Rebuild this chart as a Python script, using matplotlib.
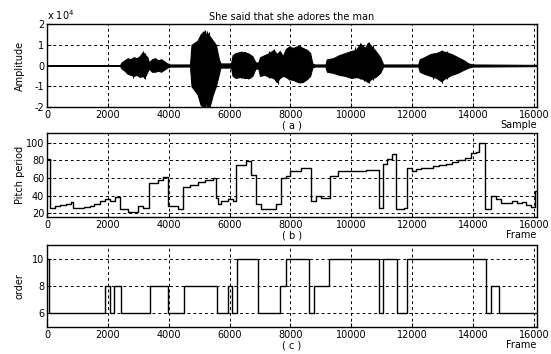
import matplotlib
matplotlib.use('Agg')
import matplotlib.pyplot as plt
import numpy as np

# speech waveform envelope: sample, upper / lower edge (x 1e4)
wave_x = [0, 2400, 2450, 2550, 2650, 2750, 2850, 2950, 3050, 3150, 3200, 3300, 3350,
          3450, 3550, 3650, 3750, 3850, 3950, 4050, 4700, 4750, 4850, 4950, 5050, 5150,
          5200, 5250, 5350, 5450, 5550, 5650, 5700, 6050, 6100, 6200, 6350, 6500, 6650,
          6750, 6850, 6950, 7000, 7150, 7300, 7450, 7550, 7650, 7750, 7850, 7950, 8100,
          8250, 8400, 8550, 8650, 8720, 8800, 9150, 9200, 9400, 9600, 9800, 10000, 10150,
          10300, 10450, 10550, 10650, 10800, 10950, 11050, 12200, 12250, 12400, 12600,
          12800, 12950, 13100, 13300, 13500, 13700, 13850, 14000, 16100]
wave_hi = [0.02, 0.02, 0.15, 0.25, 0.35, 0.3, 0.4, 0.35, 0.45, 0.65, 0.55, 0.4, 0.15,
           0.3, 0.35, 0.25, 0.3, 0.2, 0.1, 0.05, 0.05, 1.0, 1.1, 1.2, 1.5, 1.65,
           1.4, 1.6, 1.4, 1.2, 1.0, 0.3, 0.1, 0.1, 0.5, 0.6, 0.65, 0.65, 0.55,
           0.45, 0.15, 0.15, 0.4, 0.5, 0.6, 0.75, 0.55, 0.7, 0.45, 0.8, 0.9, 0.85,
           0.95, 0.85, 0.75, 0.6, 0.1, 0.05, 0.05, 0.3, 0.35, 0.5, 0.6, 0.7, 0.75,
           1.05, 0.85, 1.1, 0.95, 0.7, 0.4, 0.05, 0.05, 0.3, 0.4, 0.55,
           0.6, 0.7, 0.65, 0.55, 0.4, 0.25, 0.1, 0.05, 0.03]
wave_lo = [-0.02, -0.02, -0.15, -0.25, -0.4, -0.45, -0.5, -0.45, -0.55, -0.5, -0.6, -0.3, -0.15,
           -0.3, -0.3, -0.25, -0.3, -0.2, -0.1, -0.05, -0.05, -1.0, -1.2, -1.4, -1.9, -2.0,
           -1.6, -2.0, -1.95, -1.4, -1.0, -0.4, -0.1, -0.1, -0.5, -0.6, -0.55, -0.6, -0.6,
           -0.5, -0.15, -0.15, -0.5, -0.45, -0.55, -0.6, -0.8, -0.6, -0.5, -0.55, -0.65, -0.7,
           -0.8, -0.8, -0.65, -0.5, -0.1, -0.05, -0.05, -0.3, -0.35, -0.45, -0.5, -0.6, -0.55,
           -0.6, -0.7, -0.8, -0.65, -0.55, -0.35, -0.05, -0.05, -0.3, -0.4, -0.5,
           -0.6, -0.75, -0.6, -0.45, -0.35, -0.2, -0.1, -0.05, -0.03]

# single peaks sticking out of the envelope (x 1e4)
spike_x = [2820, 3150, 3230, 5020, 5120, 5180, 5260, 5340, 5400, 6380, 6600, 7300, 7475,
           7585, 7970, 8300, 10130, 10300, 10420, 10570, 10700, 12700, 12970, 13150]
spike_hi = [0.3, 0.68, 0.6, 1.3, 1.6, 1.7, 1.65, 1.6, 1.3, 0.7, 0.6, 0.7, 0.8,
            0.6, 0.92, 1.0, 0.9, 1.1, 0.9, 1.15, 1.0, 0.6, 0.75, 0.7]
spike_lo = [-0.6, -0.5, -0.65, -1.7, -1.95, -2.0, -1.9, -2.0, -1.5, -0.6, -0.65, -0.6, -0.65,
            -0.88, -0.7, -0.85, -0.6, -0.65, -0.75, -0.85, -0.7, -0.65, -0.82, -0.65]

# pitch period, panel (b): start of each step and its value
pitch_x = [0, 100, 275, 430, 630, 790, 870, 1230, 1400, 1560, 1730, 1890, 2080, 2220,
           2390, 2660, 2990, 3160, 3355, 3650, 3820, 3980, 4310, 4480, 4700, 4960, 5200,
           5450, 5560, 5620, 5730, 5945, 6110, 6220, 6550, 6710, 6880, 7040, 7530, 7700,
           7860, 8000, 8350, 8690, 8850, 9010, 9290, 9560, 9890, 10490, 10900, 11040,
           11180, 11340, 11480, 11750, 11840, 12000, 12140, 12300, 12500, 12700, 12900,
           13100, 13300, 13500, 13750, 13950, 14100, 14200, 14410, 14600, 14770, 14930,
           15300, 15450, 15600, 15750, 15900, 16050]
pitch_v = [82, 26, 28, 30, 31, 33, 26.5, 27.5, 29, 31, 34, 36.5, 34.5, 38.5,
           25, 21.5, 29, 26, 54.5, 57.5, 61, 28, 24.5, 50, 52, 56, 57.5,
           60, 38, 30.5, 34.5, 36, 34.5, 74.5, 79, 64, 31, 24.5, 31, 60,
           62, 68.5, 71.5, 34.5, 39.5, 37, 62, 68.5, 68, 69, 26.5, 75.5,
           82, 87, 24.5, 26, 71.5, 68, 70, 71, 72, 73.5, 75,
           76.5, 78, 80, 83, 88, 90, 100, 25, 39.5, 36, 31.5,
           34, 32, 33.5, 30, 27, 45]

# predictor order, panel (c)
order_x = [0, 80, 1890, 2060, 2190, 2420, 3380, 3980, 4500, 5600, 5960, 6090, 6250,
           6950, 7670, 7840, 8620, 8770, 9270, 10900, 11050, 11500, 11830, 14420,
           14590, 14860]
order_v = [10, 6, 8, 6, 8, 6, 8, 6, 8, 6, 8, 6, 10,
           6, 8, 10, 6, 8, 10, 6, 10, 6, 10, 6,
           8, 6]

x_end = 16100
x_ticks = list(range(0, 16001, 2000))

fs = 7
fig = plt.figure(figsize=(5.51, 3.54), dpi=100)
ax1 = fig.add_axes([0.0853, 0.6977, 0.889, 0.2345])
ax2 = fig.add_axes([0.0853, 0.3870, 0.889, 0.2370])
ax3 = fig.add_axes([0.0853, 0.0763, 0.889, 0.2316])

ax1.fill_between(wave_x, np.array(wave_hi) * 1e4, np.array(wave_lo) * 1e4,
                 color='black', lw=0.8)
ax1.vlines(spike_x, np.array(spike_lo) * 1e4, np.array(spike_hi) * 1e4, color='black', lw=0.8)
ax1.set_ylim(-2e4, 2e4)
ax1.set_yticks([-2e4, -1e4, 0, 1e4, 2e4])
ax1.set_yticklabels(['-2', '-1', '0', '1', '2'])
ax1.set_ylabel('Amplitude', fontsize=fs)
ax1.set_title('She said that she adores the man', fontsize=fs, pad=3)
ax1.text(0.0, 1.03, r'x 10$^4$', transform=ax1.transAxes, ha='left', va='bottom', fontsize=fs)

ax2.step(pitch_x + [x_end], pitch_v + [pitch_v[-1]], where='post', color='black', lw=1.0)
ax2.set_ylim(16, 111)
ax2.set_yticks([20, 40, 60, 80, 100])
ax2.set_ylabel('Pitch period', fontsize=fs)

ax3.step(order_x + [x_end], order_v + [order_v[-1]], where='post', color='black', lw=1.0)
ax3.set_ylim(5, 11)
ax3.set_yticks([6, 8, 10])
ax3.set_ylabel('order', fontsize=fs)

for ax, tag, unit in [(ax1, '( a )', 'Sample'), (ax2, '( b )', 'Frame'), (ax3, '( c )', 'Frame')]:
    ax.set_xlim(0, x_end)
    ax.set_xticks(x_ticks)
    ax.set_xticklabels([str(t) for t in x_ticks])
    ax.grid(True, color='black', ls=(0, (3, 3)), lw=0.7)
    ax.tick_params(direction='in', length=3, labelsize=fs, pad=2)
    ax.yaxis.set_label_coords(-0.045, 0.5)
    for s in ax.spines.values():
        s.set_linewidth(1.0)
    ax.text(0.5, -0.22, tag, transform=ax.transAxes, ha='center', va='center', fontsize=fs)
    ax.text(1.0, -0.22, unit, transform=ax.transAxes, ha='right', va='center', fontsize=fs)

fig.savefig('out.png', dpi=100)
